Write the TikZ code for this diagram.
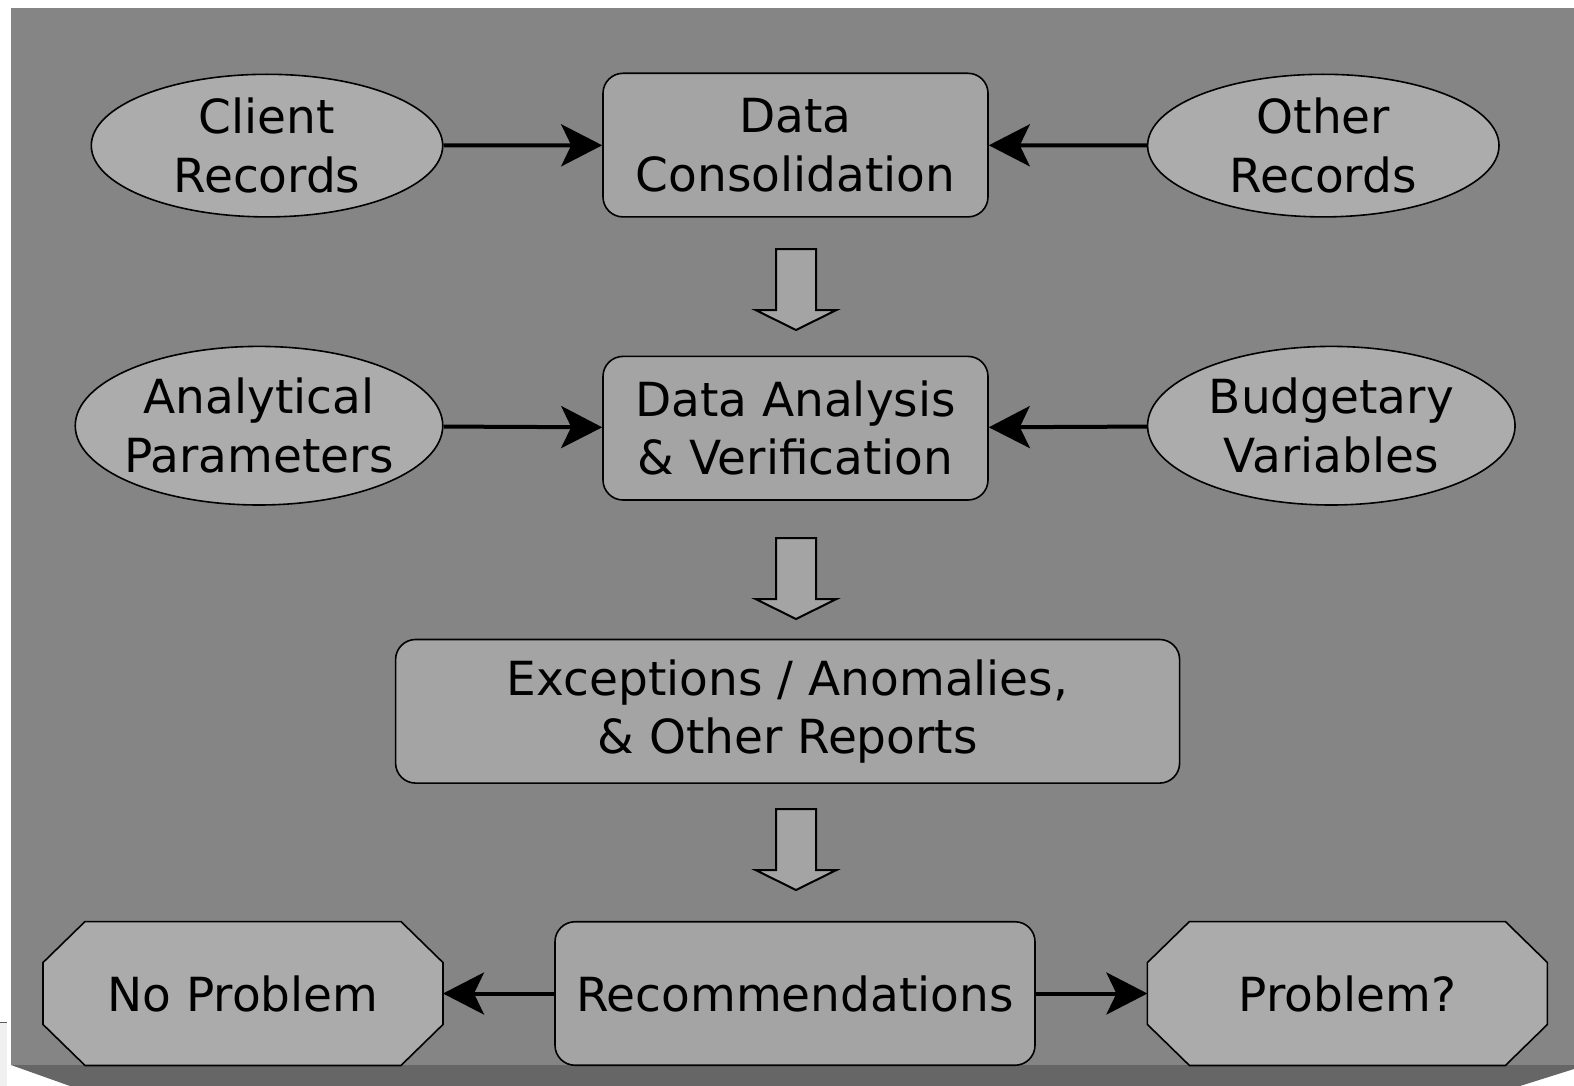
\documentclass[tikz,border=0pt]{standalone}
\usepackage{fontspec}
\setmainfont{DejaVu Sans}
\usetikzlibrary{shapes.geometric,arrows.meta,backgrounds}
\definecolor{panel}{RGB}{133,133,133}
\definecolor{panelshadow}{RGB}{102,102,102}
\definecolor{ovalfill}{RGB}{172,172,172}
\definecolor{boxfill}{RGB}{164,164,164}
\definecolor{octfill}{RGB}{171,171,171}
\tikzset{
  every node/.style={font=\fontsize{47}{58.5}\selectfont, align=center, text=black},
  oval/.style={ellipse, draw=black, line width=1.6pt, fill=ovalfill, inner xsep=-12pt, inner ysep=0pt},
  roundbox/.style={rectangle, rounded corners=20pt, draw=black, line width=1.6pt, fill=boxfill, inner sep=0pt},
  octbox/.style={rectangle, inner sep=0pt},
  octline/.style={draw=black, line width=1.6pt, fill=octfill},
  conn/.style={line width=4pt, -{Stealth[length=41pt, width=42pt, inset=10pt]}},
  blockarrow/.style={draw=black, line width=2pt, fill=boxfill, line join=miter},
  pics/downarrow/.style={code={
    \draw[blockarrow] (-20,0) -- (20,0) -- (20,61) -- (40.5,61) -- (0,81)
      -- (-40.5,61) -- (-20,61) -- cycle;
  }}
}
\begin{document}
\begin{tikzpicture}[x=1pt, y=-1pt]
\useasboundingbox (0,0) rectangle (1574,1086);

% first row
\node[oval, minimum width=351.4pt, minimum height=142.6pt] (client) at (267,145.6) {Client\\Records};
\node[roundbox, minimum width=385pt, minimum height=143.6pt] (consol) at (795.5,145.1) {Data\\Consolidation};
\node[oval, minimum width=351.4pt, minimum height=142.6pt] (other) at (1323.3,145.6) {Other\\Records};

% second row
\node[oval, minimum width=367.5pt, minimum height=158.6pt] (param) at (259,425.7) {Analytical\\Parameters};
\node[roundbox, minimum width=385pt, minimum height=143.6pt] (analysis) at (795.5,428.2) {Data Analysis\\\&~Verification};
\node[oval, minimum width=367.5pt, minimum height=158.6pt] (budget) at (1331.3,425.7) {Budgetary\\Variables};

% third row
\node[roundbox, minimum width=784pt, minimum height=143.6pt] (reports) at (787.6,711.3) {Exceptions / Anomalies,\\\&~Other Reports};

% last row
\node[octbox, minimum width=399.6pt, minimum height=143.5pt] (noprob) at (243,993.5) {No Problem};
\node[roundbox, minimum width=480pt, minimum height=143.5pt] (recomm) at (795,993.5) {Recommendations};
\node[octbox, minimum width=399.6pt, minimum height=143.5pt] (prob) at (1347.4,993.5) {Problem?};

\begin{scope}[on background layer]
  % panel and its bottom shadow
  \fill[panel] (11,8) rectangle (1574,1065);
  \fill[panelshadow] (11,1065) -- (1574,1065) -- (1574,1069) -- (1520,1086) -- (70,1086) -- cycle;
  \fill[gray!12] (0,1022) rectangle (7,1086);
  \draw[gray!70!black, line width=1pt] (0,1022) -- (7,1022);
  % octagonal outcome boxes
  \foreach \n in {noprob, prob} {
    \path[octline] ([xshift=42pt]\n.north west) -- ([xshift=-42pt]\n.north east)
      -- ([yshift=-41pt]\n.north east) -- ([yshift=41pt]\n.south east)
      -- ([xshift=-42pt]\n.south east) -- ([xshift=42pt]\n.south west)
      -- ([yshift=41pt]\n.south west) -- ([yshift=-41pt]\n.north west) -- cycle;
  }
\end{scope}

% block arrows between stages
\pic at (796,249) {downarrow};
\pic at (796,538) {downarrow};
\pic at (796,809) {downarrow};

% connectors
\draw[conn] (client) -- (consol);
\draw[conn] (other) -- (consol);
\draw[conn] (param) -- (analysis);
\draw[conn] (budget) -- (analysis);
\draw[conn] (recomm) -- (noprob);
\draw[conn] (recomm) -- (prob);
\end{tikzpicture}
\end{document}
